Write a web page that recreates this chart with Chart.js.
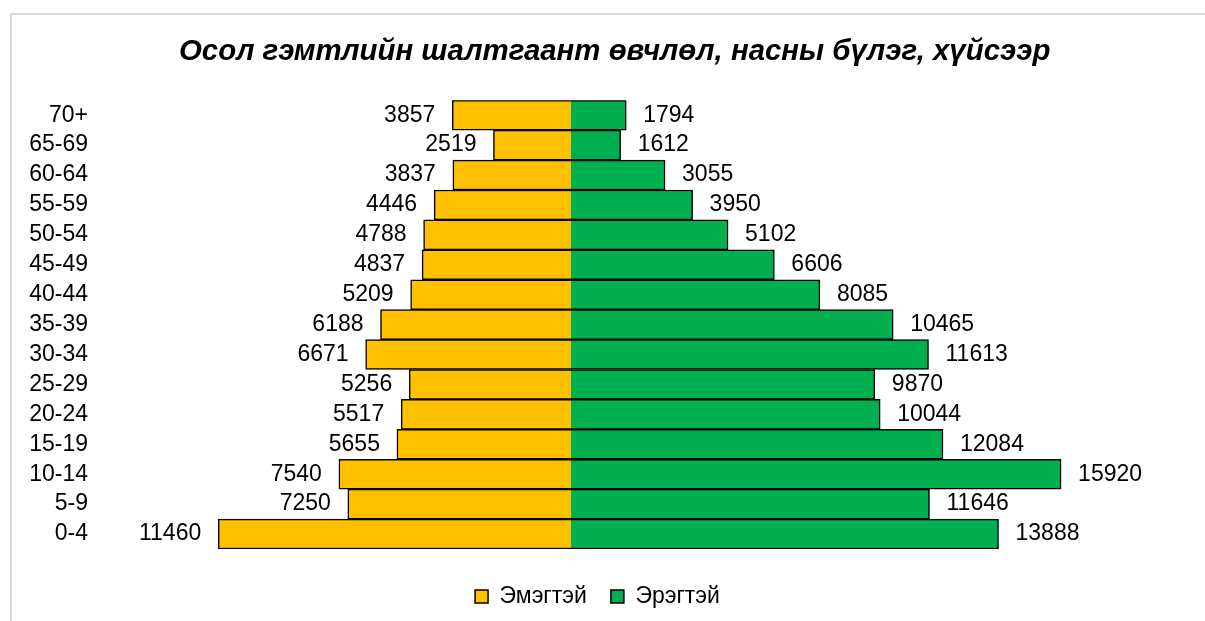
<!DOCTYPE html>
<html>
<head>
<meta charset="utf-8">
<script src="https://cdn.jsdelivr.net/npm/chart.js@4.4.0/dist/chart.umd.min.js"></script>
<style>
  html, body { margin: 0; padding: 0; background: #fff; }
  #frame { position: absolute; left: 10px; top: 13px; width: 1300px; height: 700px;
           border-left: 2px solid #d9d9d9; border-top: 2px solid #d9d9d9; }
  #pyramid { position: absolute; left: 0; top: 0; }
</style>
</head>
<body>
<div id="frame"></div>
<canvas id="pyramid" width="1205" height="621"></canvas>
<script>
const ageGroups = ['70+', '65-69', '60-64', '55-59', '50-54', '45-49', '40-44', '35-39',
                   '30-34', '25-29', '20-24', '15-19', '10-14', '5-9', '0-4'];
const female = [3857, 2519, 3837, 4446, 4788, 4837, 5209, 6188, 6671, 5256, 5517, 5655, 7540, 7250, 11460];
const male = [1794, 1612, 3055, 3950, 5102, 6606, 8085, 10465, 11613, 9870, 10044, 12084, 15920, 11646, 13888];
const seriesNames = ['Эмэгтэй', 'Эрэгтэй'];
const chartTitle = 'Осол гэмтлийн шалтгаант өвчлөл, насны бүлэг, хүйсээр';

const FONT = "'Liberation Sans', Arial, sans-serif";

// value labels at the outer end of every bar
const barLabels = {
    id: 'barLabels',
    afterDatasetsDraw(chart) {
        const ctx = chart.ctx;
        ctx.save();
        ctx.font = '23px ' + FONT;
        ctx.fillStyle = '#000';
        ctx.textBaseline = 'middle';
        chart.data.datasets.forEach((ds, i) => {
            chart.getDatasetMeta(i).data.forEach((bar, j) => {
                const v = ds.data[j];
                ctx.textAlign = v < 0 ? 'right' : 'left';
                ctx.fillText(String(Math.abs(v)), bar.x + (v < 0 ? -17 : 17), bar.y);
            });
        });
        ctx.restore();
    }
};

new Chart(document.getElementById('pyramid'), {
    type: 'bar',
    data: {
        labels: ageGroups,
        datasets: [
            {
                label: seriesNames[0],
                data: female.map(v => -v),
                backgroundColor: '#FFC000',
                borderColor: '#000',
                borderWidth: 1.5
            },
            {
                label: seriesNames[1],
                data: male,
                backgroundColor: '#00B050',
                borderColor: '#000',
                borderWidth: 1.5
            }
        ]
    },
    options: {
        indexAxis: 'y',
        responsive: false,
        animation: false,
        barPercentage: 1,
        categoryPercentage: 1,
        layout: { padding: { left: 27, right: 37, top: 0, bottom: 3 } },
        scales: {
            x: {
                stacked: true,
                min: -12734,
                max: 19393,
                ticks: { display: false, stepSize: 5000 },
                border: { display: false },
                grid: {
                    drawTicks: false,
                    z: 1,
                    lineWidth: 2,
                    color: c => (c.tick && c.tick.value === 0) ? '#d9d9d9' : 'rgba(0,0,0,0)'
                },
                afterFit: s => { s.height = 12; }
            },
            y: {
                stacked: true,
                border: { display: false },
                grid: { display: false, drawTicks: false },
                ticks: { color: '#000', padding: 91, autoSkip: false, font: { family: FONT, size: 23 } },
                afterFit: s => {
                    s.width = 152;
                    s.paddingTop = 0;
                    s.paddingBottom = 0;
                }
            }
        },
        plugins: {
            title: {
                display: true,
                text: chartTitle,
                fullSize: false,
                align: 'start',
                color: '#000',
                font: { family: FONT, size: 29.4, weight: 'bold', style: 'italic' },
                padding: { top: 34, bottom: 31 }
            },
            legend: {
                position: 'bottom',
                labels: {
                    color: '#000',
                    boxWidth: 13,
                    boxHeight: 13,
                    padding: 24,
                    font: { family: FONT, size: 23 }
                }
            },
            tooltip: { enabled: false }
        }
    },
    plugins: [barLabels]
});
</script>
</body>
</html>
